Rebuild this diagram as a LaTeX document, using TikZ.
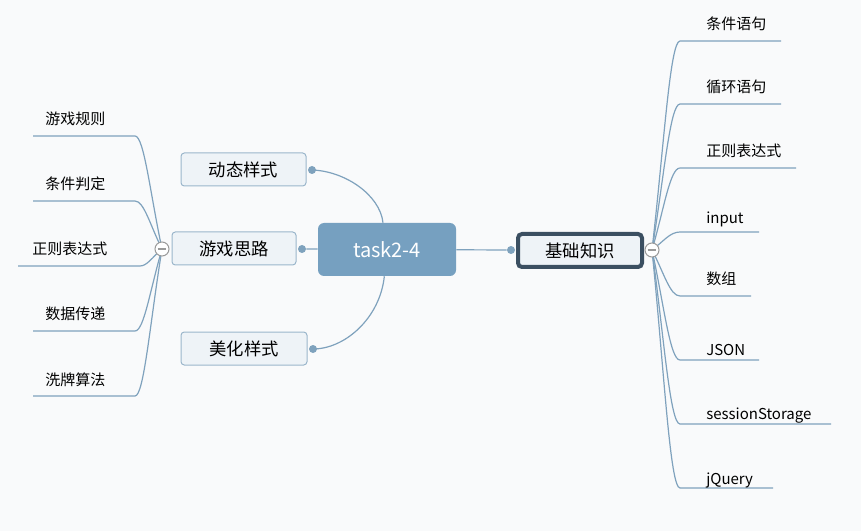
\documentclass[tikz,border=0pt]{standalone}
\usepackage{fontspec}
\setmainfont{Noto Sans CJK SC}
\usetikzlibrary{positioning, backgrounds}
\definecolor{bgcol}{HTML}{F9FAFB}
\definecolor{linecol}{HTML}{7FA2BD}
\definecolor{rootcol}{HTML}{76A0C0}
\definecolor{topicfill}{HTML}{EEF3F7}
\definecolor{topicline}{HTML}{9BB6CB}
\definecolor{darkline}{HTML}{3B4F61}
\definecolor{hubline}{HTML}{9A9A9A}

\begin{document}
\begin{tikzpicture}[x=0.75pt, y=-0.75pt]
  \tikzstyle{root} = [rectangle, rounded corners=4.5pt, fill=rootcol, text=white,
                      minimum width=103.5pt, minimum height=39.75pt, font=\fontsize{15}{18}\selectfont]
  \tikzstyle{topic} = [rectangle, rounded corners=2.5pt, draw=topicline, line width=0.75pt, fill=topicfill,
                       minimum width=93pt, minimum height=24.75pt, font=\fontsize{13}{16}\selectfont]
  \tikzstyle{leaf} = [inner sep=0pt, anchor=base west, font=\fontsize{11.25}{13}\selectfont]
  \tikzstyle{dot} = [circle, fill=linecol, inner sep=0pt, minimum size=6pt]
  \tikzstyle{hub} = [circle, draw=hubline, fill=white, inner sep=0pt, minimum size=10.5pt, line width=0.75pt,
                     path picture={\draw[hubline, line width=0.9pt]
                       ([xshift=-3.2pt]path picture bounding box.center) -- ([xshift=3.2pt]path picture bounding box.center);}]
  \tikzstyle{branch} = [draw=linecol, line width=0.9pt]

  \useasboundingbox (0,0) rectangle (861,531);

  % main nodes
  \node (cen) [root] at (387,249.5) {task2-4};
  \node (kb)  [topic, draw=darkline, line width=3pt, rounded corners=3pt] at (580,250.5) {基础知识};
  \node (yx)  [topic] at (234,248.5) {游戏思路};
  \node (dt)  [topic, minimum width=93.75pt] at (243.5,169.5) {动态样式};
  \node (mh)  [topic, minimum width=94.5pt] at (244,348.5) {美化样式};

  \node (kbdot) [dot] at (511,250) {};
  \node (yxdot) [dot] at (302,249) {};
  \node (dtdot) [dot] at (312,170) {};
  \node (mhdot) [dot] at (313,349) {};

  \node (lhub) [hub] at (162,249) {};
  \node (rhub) [hub] at (652,250) {};

  % right leaves
  \coordinate (ra1) at (680,41);  \coordinate (rb1) at (781,41);
  \coordinate (ra2) at (680,104); \coordinate (rb2) at (781,104);
  \coordinate (ra3) at (680,168); \coordinate (rb3) at (796,168);
  \coordinate (ra4) at (680,232); \coordinate (rb4) at (759,232);
  \coordinate (ra5) at (680,296); \coordinate (rb5) at (751,296);
  \coordinate (ra6) at (680,360); \coordinate (rb6) at (759,360);
  \coordinate (ra7) at (680,424); \coordinate (rb7) at (831,424);
  \coordinate (ra8) at (680,488); \coordinate (rb8) at (773,488);

  \node (r1) [leaf] at (706,30)  {条件语句};
  \node (r2) [leaf] at (706,93)  {循环语句};
  \node (r3) [leaf] at (706,157) {正则表达式};
  \node (r4) [leaf] at (706,224) {input};
  \node (r5) [leaf] at (706,285) {数组};
  \node (r6) [leaf] at (706,355) {JSON};
  \node (r7) [leaf] at (706,419) {sessionStorage};
  \node (r8) [leaf] at (706,484) {jQuery};

  % left leaves
  \coordinate (la1) at (135,136); \coordinate (lb1) at (33,136);
  \coordinate (la2) at (135,201); \coordinate (lb2) at (33,201);
  \coordinate (la3) at (140,266); \coordinate (lb3) at (18,266);
  \coordinate (la4) at (135,331); \coordinate (lb4) at (33,331);
  \coordinate (la5) at (135,396); \coordinate (lb5) at (33,396);

  \node (l1) [leaf] at (45,125) {游戏规则};
  \node (l2) [leaf] at (45,190) {条件判定};
  \node (l3) [leaf] at (32,255) {正则表达式};
  \node (l4) [leaf] at (45,320) {数据传递};
  \node (l5) [leaf] at (45,385) {洗牌算法};

  \begin{scope}[on background layer]
    \fill[bgcol] (0,0) rectangle (861,531);

    \draw [branch] (cen) -- (kbdot);
    \draw [branch] (cen) -- (yxdot);
    \draw [branch] (dtdot.center) .. controls (345,171) and (380,195) .. ([xshift=-3pt]cen.north);
    \draw [branch] (mhdot.center) .. controls (345,349) and (380,318) .. ([xshift=-2pt]cen.south);

    \draw [branch] (rhub.center) .. controls (664,145.5) and (670,41)  .. (ra1) -- (rb1);
    \draw [branch] (rhub.center) .. controls (664,177)   and (670,104) .. (ra2) -- (rb2);
    \draw [branch] (rhub.center) .. controls (664,209)   and (670,168) .. (ra3) -- (rb3);
    \draw [branch] (rhub.center) .. controls (664,241)   and (670,232) .. (ra4) -- (rb4);
    \draw [branch] (rhub.center) .. controls (664,273)   and (670,296) .. (ra5) -- (rb5);
    \draw [branch] (rhub.center) .. controls (664,305)   and (670,360) .. (ra6) -- (rb6);
    \draw [branch] (rhub.center) .. controls (664,337)   and (670,424) .. (ra7) -- (rb7);
    \draw [branch] (rhub.center) .. controls (664,369)   and (670,488) .. (ra8) -- (rb8);

    \draw [branch] (lhub.center) .. controls (150,192.5) and (144,136) .. (la1) -- (lb1);
    \draw [branch] (lhub.center) .. controls (150,225)   and (144,201) .. (la2) -- (lb2);
    \draw [branch] (lhub.center) .. controls (152,257.5) and (147,266) .. (la3) -- (lb3);
    \draw [branch] (lhub.center) .. controls (150,290)   and (144,331) .. (la4) -- (lb4);
    \draw [branch] (lhub.center) .. controls (150,322.5) and (144,396) .. (la5) -- (lb5);
  \end{scope}
\end{tikzpicture}
\end{document}
